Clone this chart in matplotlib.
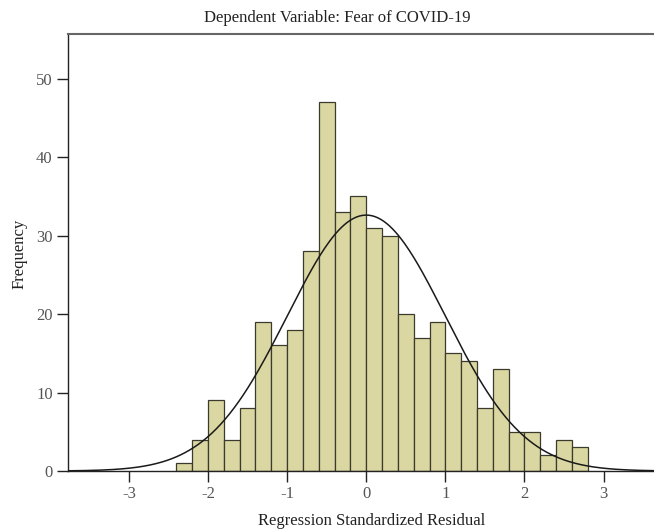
import numpy as np
import matplotlib
matplotlib.use("Agg")
import matplotlib.pyplot as plt

# histogram of standardized residuals (bin width 0.2)
bin_left = [-2.4, -2.2, -2.0, -1.8, -1.6, -1.4, -1.2, -1.0, -0.8, -0.6,
            -0.4, -0.2, 0.0, 0.2, 0.4, 0.6, 0.8, 1.0, 1.2, 1.4,
            1.6, 1.8, 2.0, 2.2, 2.4, 2.6]
counts = [1, 4, 9, 4, 8, 19, 16, 18, 28, 47,
          33, 35, 31, 30, 20, 17, 19, 15, 14, 8,
          13, 5, 5, 2, 4, 3]
bin_width = 0.2
# normal curve parameters
mean = 0.0
std_dev = 0.998
n_total = sum(counts)

x_ticks = [-3, -2, -1, 0, 1, 2, 3]
y_ticks = [0, 10, 20, 30, 40, 50]

plt.rcParams['font.family'] = ['Liberation Serif', 'DejaVu Serif']

fig = plt.figure(figsize=(6.54, 5.31), dpi=100)
ax = fig.add_axes([68 / 654, 60 / 531, 1 - 68 / 654 + 0.01, (471 - 34) / 531])

ax.bar(bin_left, counts, width=bin_width, align='edge',
       color='#dad7a2', edgecolor='#3b3a2c', linewidth=0.9, zorder=2)

xs = np.linspace(-3.8, 3.8, 400)
curve = n_total * bin_width * np.exp(-0.5 * ((xs - mean) / std_dev) ** 2) / (std_dev * np.sqrt(2 * np.pi))
ax.plot(xs, curve, color='#1a1a1a', linewidth=1.1, zorder=3)

ax.set_xlim(-3.77, 3.72)
ax.set_ylim(0, 55.7)
ax.set_xticks(x_ticks)
ax.set_xticklabels([str(t) for t in x_ticks])
ax.set_yticks(y_ticks)

for side in ['left', 'bottom']:
    ax.spines[side].set_color('#222222')
    ax.spines[side].set_linewidth(1.0)
ax.spines['top'].set_color('#666666')
ax.spines['top'].set_linewidth(1.5)
ax.spines['right'].set_visible(False)

ax.tick_params(axis='both', direction='out', length=8, width=1.0,
               color='#222222', labelcolor='#555555', labelsize=12, pad=3)

# title is centred over the whole original chart, not the axes
fig.text(337 / 654, 1 - 18 / 531, 'Dependent Variable: Fear of COVID-19',
         fontsize=12, color='#222222', ha='center', va='center')
fig.text(372 / 654, 1 - 521 / 531, 'Regression Standardized Residual',
         fontsize=12, color='#222222', ha='center', va='center')
fig.text(20 / 654, 1 - 254 / 531, 'Frequency', rotation=90,
         fontsize=12, color='#222222', ha='center', va='center')

fig.savefig('out.png', dpi=100)
